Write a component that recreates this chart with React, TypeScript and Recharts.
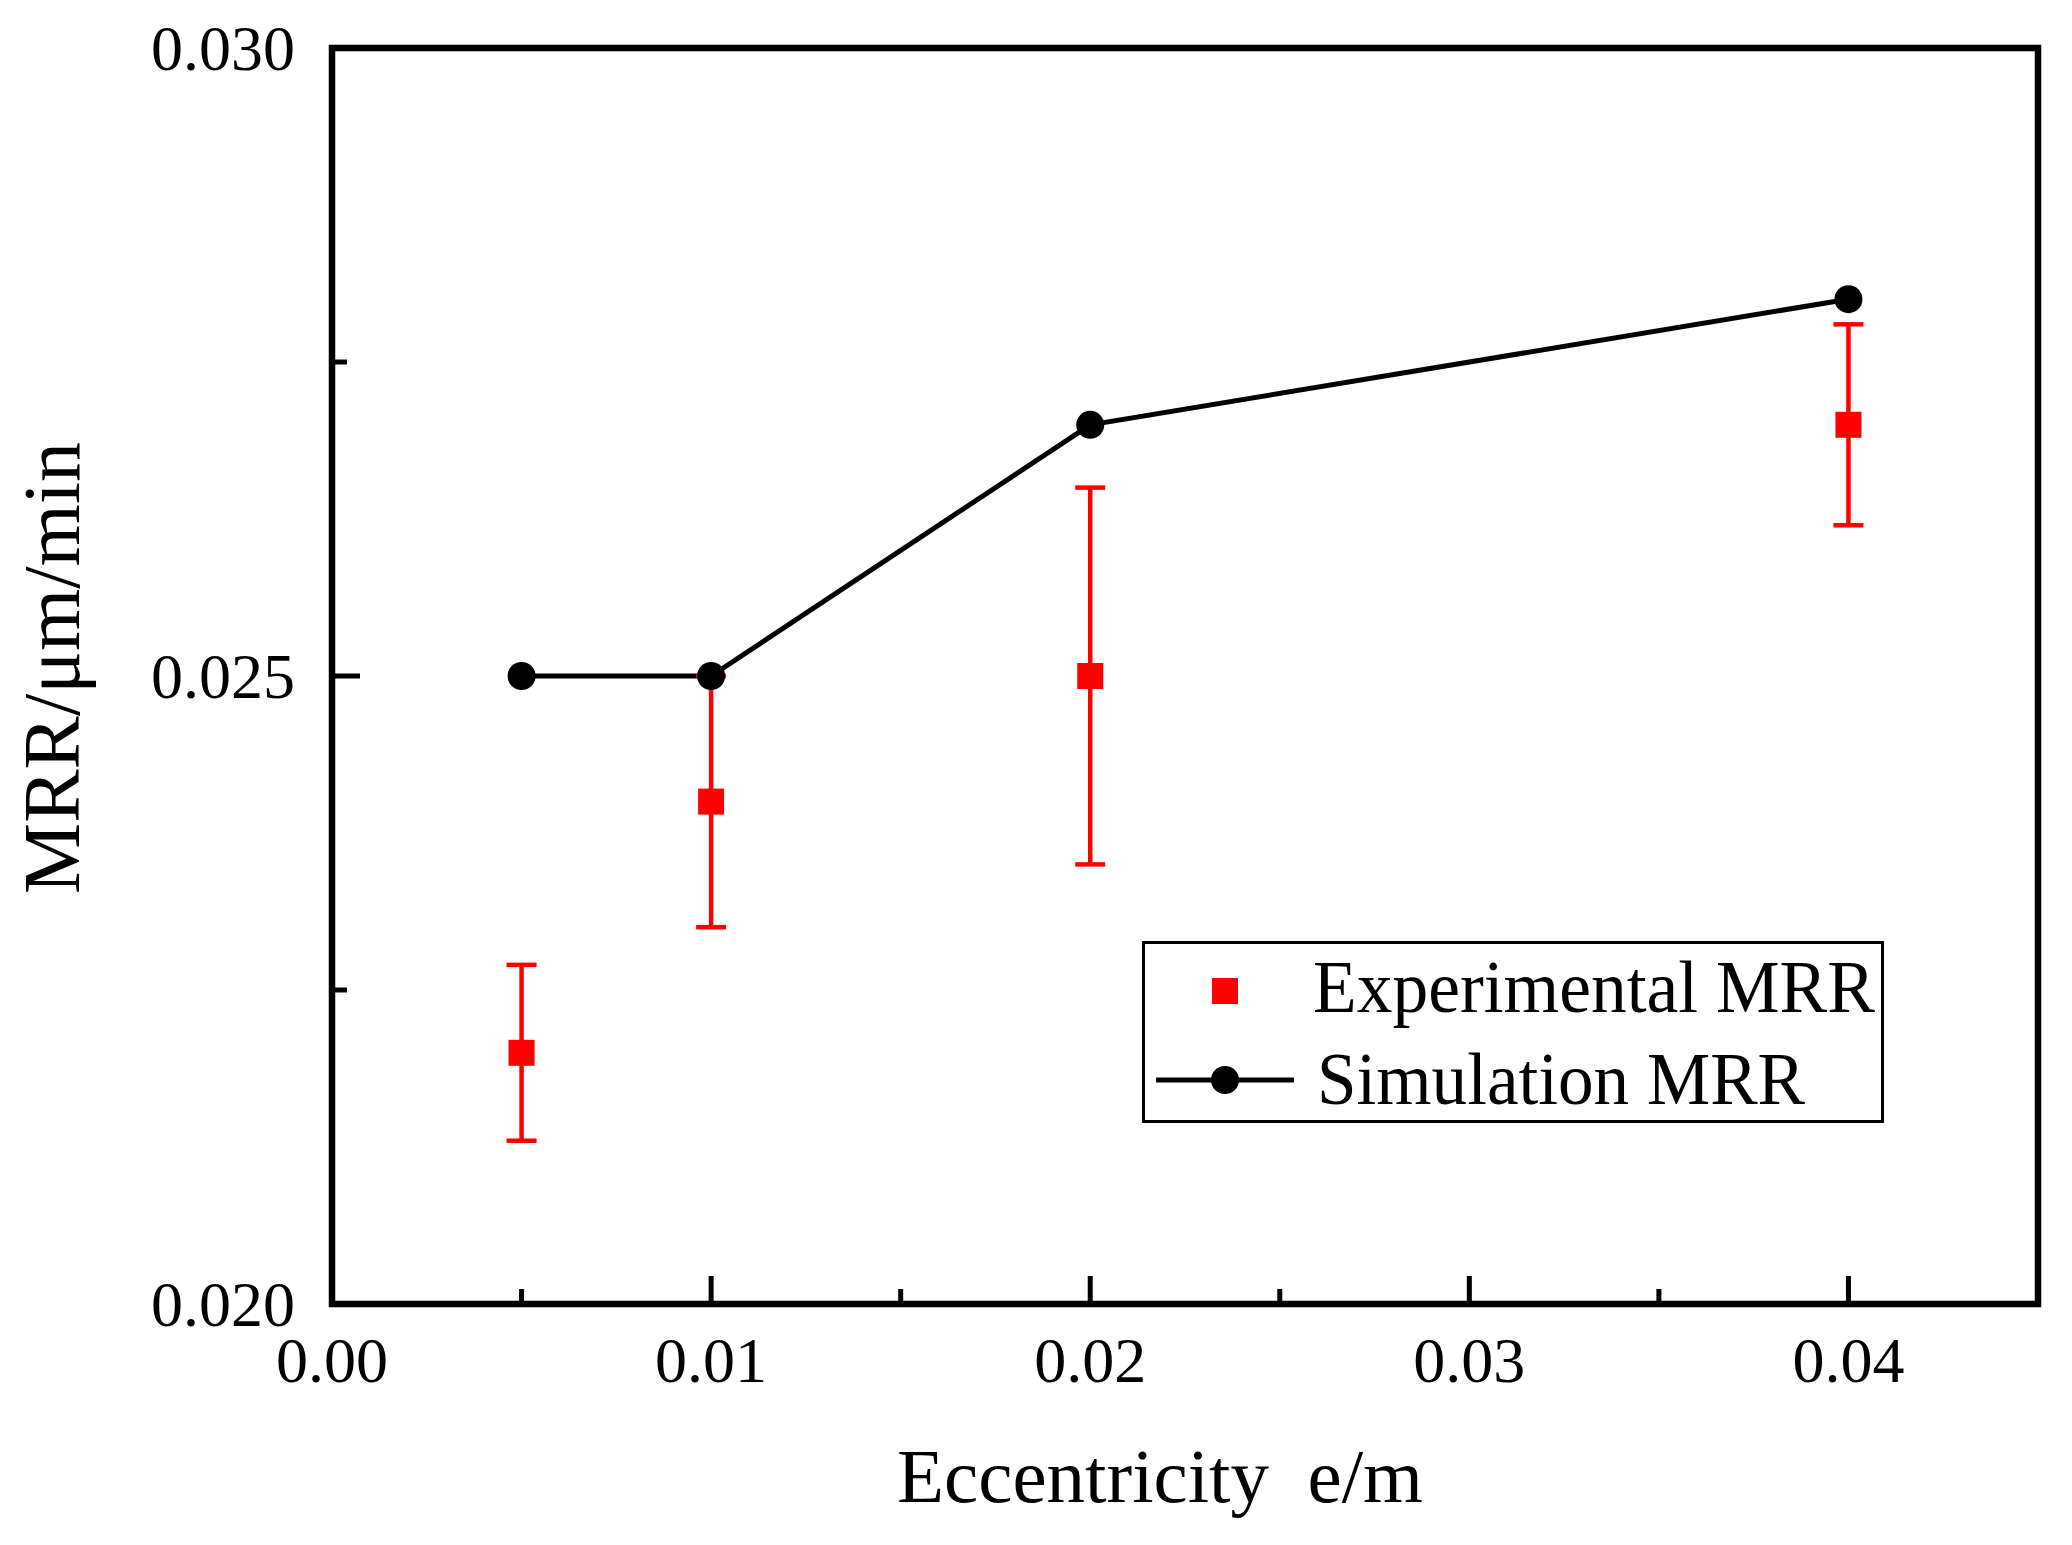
import React from 'react';
import { ComposedChart, Line, Scatter, ErrorBar, XAxis, YAxis, Legend, ReferenceArea } from 'recharts';

const eccentricity = [0.005, 0.01, 0.02, 0.04];
const experimentalMRR = [0.022, 0.024, 0.025, 0.027];
const experimentalError = [0.0007, 0.001, 0.0015, 0.0008];
const simulationMRR = [0.025, 0.025, 0.027, 0.028];

const xMajorTicks = [0, 0.01, 0.02, 0.03, 0.04];
const xMinorTicks = [0.005, 0.015, 0.025, 0.035];
const yMajorTicks = [0.02, 0.025, 0.03];
const yMinorTicks = [0.0225, 0.0275];

const seriesNames = ['Experimental MRR', 'Simulation MRR'];

const FONT = '"Liberation Serif", "Times New Roman", Times, serif';
const RED = '#ff0000';

const experimentalData = eccentricity.map((x, i) => ({ x, y: experimentalMRR[i], err: experimentalError[i] }));
const simulationData = eccentricity.map((x, i) => ({ x, y: simulationMRR[i] }));

const isIn = (list: number[], v: number) => list.some((t) => Math.abs(t - v) < 1e-9);

const XTick = (props: any) => {
  const { x, y, payload } = props;
  const major = isIn(xMajorTicks, payload.value);
  return (
    <g>
      <line x1={x} x2={x} y1={y} y2={y - (major ? 28 : 15)} stroke="#000" strokeWidth={5} />
      {major && (
        <text x={x} y={y + 78} textAnchor="middle" fontSize={64} fontFamily={FONT} fill="#000">
          {payload.value.toFixed(2)}
        </text>
      )}
    </g>
  );
};

const YTick = (props: any) => {
  const { x, y, payload } = props;
  const major = isIn(yMajorTicks, payload.value);
  return (
    <g>
      <line x1={x} x2={x + (major ? 28 : 15)} y1={y} y2={y} stroke="#000" strokeWidth={5} />
      {major && (
        <text x={x - 37} y={y + 22} textAnchor="end" fontSize={64} fontFamily={FONT} fill="#000">
          {payload.value.toFixed(3)}
        </text>
      )}
    </g>
  );
};

const XTitle = () => (
  <text x={1160} y={1502} textAnchor="middle" fontSize={77} fontFamily={FONT} fill="#000">
    {'Eccentricity\u00a0 e/m'}
  </text>
);

const YTitle = () => (
  <text transform="translate(79,668) rotate(-90)" textAnchor="middle" fontSize={80} fontFamily={FONT} fill="#000">
    MRR/μm/min
  </text>
);

const LegendBox = () => (
  <svg width={800} height={182} style={{ display: 'block', overflow: 'visible' }}>
    <rect x={1.5} y={1.5} width={739} height={179} fill="#fff" stroke="#000" strokeWidth={3} />
    <rect x={70} y={37} width={26} height={26} fill={RED} />
    <text x={171} y={71} fontSize={74} fontFamily={FONT} fill="#000" textLength={562} lengthAdjust="spacingAndGlyphs">
      {seriesNames[0]}
    </text>
    <line x1={14} x2={152} y1={139} y2={139} stroke="#000" strokeWidth={5} />
    <circle cx={83} cy={139} r={14} fill="#000" />
    <text x={175} y={163} fontSize={74} fontFamily={FONT} fill="#000" textLength={488} lengthAdjust="spacingAndGlyphs">
      {seriesNames[1]}
    </text>
  </svg>
);

const Square = (props: any) => {
  const { cx, cy } = props;
  if (cx == null || cy == null) return null;
  return <rect x={cx - 13} y={cy - 13} width={26} height={26} fill={RED} />;
};

export default function App() {
  return (
    <div style={{ position: 'absolute', left: 0, top: 0, width: 2072, height: 1545, background: '#fff' }}>
      <ComposedChart width={2072} height={1545} margin={{ top: 48, right: 34, bottom: 141, left: 232 }}>
        <XAxis
          type="number"
          dataKey="x"
          domain={[0, 0.045]}
          ticks={[...xMajorTicks, ...xMinorTicks].sort((a, b) => a - b)}
          interval={0}
          allowDataOverflow
          height={100}
          tickSize={0}
          tickMargin={0}
          tickLine={false}
          axisLine={false}
          tick={<XTick />}
          label={<XTitle />}
        />
        <YAxis
          type="number"
          domain={[0.02, 0.03]}
          ticks={[...yMajorTicks, ...yMinorTicks].sort((a, b) => a - b)}
          interval={0}
          allowDataOverflow
          width={100}
          tickSize={0}
          tickMargin={0}
          tickLine={false}
          axisLine={false}
          tick={<YTick />}
          label={<YTitle />}
        />
        <ReferenceArea
          x1={0}
          x2={0.045}
          y1={0.02}
          y2={0.03}
          fill="none"
          stroke="#000"
          strokeWidth={6.5}
          ifOverflow="visible"
        />
        <Line
          data={simulationData}
          dataKey="y"
          name={seriesNames[1]}
          stroke="#000"
          strokeWidth={5}
          dot={{ r: 14, fill: '#000', stroke: '#000', strokeWidth: 0 }}
          activeDot={false}
          isAnimationActive={false}
        />
        <Scatter
          data={experimentalData}
          dataKey="y"
          name={seriesNames[0]}
          fill={RED}
          shape={<Square />}
          isAnimationActive={false}
        >
          <ErrorBar dataKey="err" direction="y" width={15} stroke={RED} strokeWidth={4.5} isAnimationActive={false} />
        </Scatter>
        <Legend
          layout="horizontal"
          verticalAlign="middle"
          align="center"
          content={<LegendBox />}
          wrapperStyle={{ left: 1142, top: 941, width: 800, height: 182 }}
        />
      </ComposedChart>
    </div>
  );
}
